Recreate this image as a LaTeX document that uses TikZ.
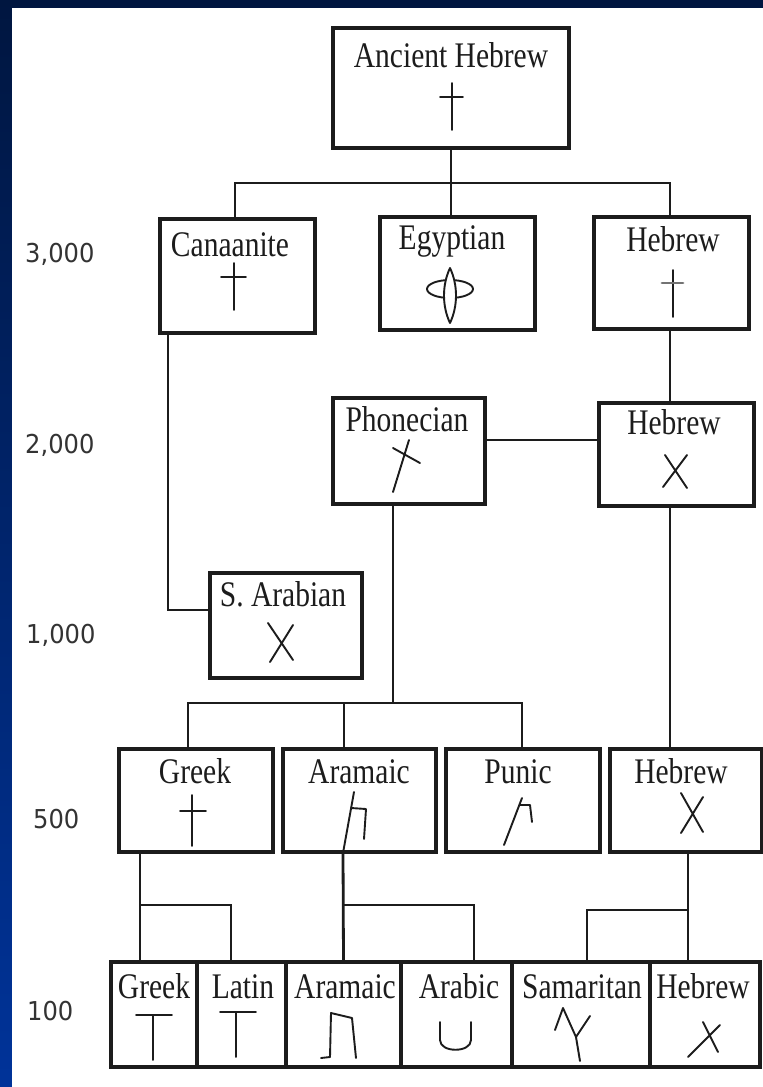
\documentclass[tikz,border=0pt]{standalone}
\usepackage{fontspec}
\setmainfont{Liberation Serif}
\newfontfamily\boxfont[FakeStretch=0.82]{Liberation Serif}
\newfontfamily\yearfont[FakeStretch=0.93]{DejaVu Sans}
\usetikzlibrary{positioning}

\definecolor{navytop}{RGB}{0,22,64}
\definecolor{navybot}{RGB}{0,51,153}
\definecolor{ink}{RGB}{28,28,28}

\tikzset{
    box/.style 2 args={draw=ink,line width=3.2pt,minimum width=#1,minimum height=#2,inner sep=0pt,outer sep=0pt},
    lab/.style={font=\boxfont\fontsize{36}{40}\selectfont,text=ink,inner sep=0pt,anchor=base},
    year/.style={font=\yearfont\fontsize{26}{30}\selectfont,text=black!80,inner sep=0pt,anchor=base west},
    link/.style={draw=ink,line width=2.8pt},
    glyph/.style={draw=ink,line width=1.9pt,line cap=round,line join=round}
}

\begin{document}
\begin{tikzpicture}[x=1pt,y=-1pt]
    \useasboundingbox (0,0) rectangle (763,1087);

    % Slide background
    \fill[top color=navytop,bottom color=navybot] (0,0) rectangle (763,1087);
    \fill[white] (12,8) rectangle (763,1087);

    % Years
    \node[year] (y3000) at (25,262) {3,000};
    \node[year] (y2000) at (25,453) {2,000};
    \node[year] (y1000) at (26,643) {1,000};
    \node[year] (y500) at (33,828) {500};
    \node[year] (y100) at (27,1020) {100};

    % Boxes
    \node[box={236}{120}] (anc) at (451,88) {};
    \node[box={155}{114}] (can) at (237.5,276) {};
    \node[box={155}{113}] (egy) at (457.5,273.5) {};
    \node[box={155}{112}] (heb1) at (671.5,273) {};
    \node[box={152}{106}] (pho) at (409,451) {};
    \node[box={155}{103}] (heb2) at (676.5,454.5) {};
    \node[box={152}{105}] (sar) at (286,625.5) {};
    \node[box={154}{103}] (grk4) at (196,800.5) {};
    \node[box={153}{103}] (ara4) at (359.5,800.5) {};
    \node[box={154}{103}] (pun4) at (523,800.5) {};
    \node[box={152}{103}] (heb4) at (686,800.5) {};
    \node[box={86}{105}] (grk5) at (154,1014.5) {};
    \node[box={89}{105},right=0pt of grk5] (lat5) {};
    \node[box={115}{105},right=0pt of lat5] (ara5) {};
    \node[box={111}{105},right=0pt of ara5] (arb5) {};
    \node[box={138}{105},right=0pt of arb5] (sam5) {};
    \node[box={110}{105},right=0pt of sam5] (heb5) {};

    % Names
    \node[lab] (ancL) at (451,67) {Ancient Hebrew};
    \node[lab] (canL) at (230,256) {Canaanite};
    \node[lab] (egyL) at (452,249) {Egyptian};
    \node[lab] (heb1L) at (673,251) {Hebrew};
    \node[lab] (phoL) at (407,431) {Phonecian};
    \node[lab] (heb2L) at (674,434) {Hebrew};
    \node[lab] (sarL) at (283,606) {S. Arabian};
    \node[lab] (grk4L) at (195,783) {Greek};
    \node[lab] (ara4L) at (359,783) {Aramaic};
    \node[lab] (pun4L) at (518,783) {Punic};
    \node[lab] (heb4L) at (681,783) {Hebrew};
    \node[lab] (grk5L) at (154,998) {Greek};
    \node[lab] (lat5L) at (243,998) {Latin};
    \node[lab] (ara5L) at (345,998) {Aramaic};
    \node[lab] (arb5L) at (459,998) {Arabic};
    \node[lab] (sam5L) at (582,998) {Samaritan};
    \node[lab] (heb5L) at (703,998) {Hebrew};

    % Letters
    \draw[glyph] (452,83) -- (452,130) (440,97) -- (463,97);
    \draw[glyph] (234,263) -- (234,310) (221,277) -- (246,277);
    \draw[glyph] (450,289) ellipse[x radius=23,y radius=9];
    \filldraw[glyph,fill=white] (450,268) .. controls (442,285) and (442,306) .. (450,323)
        .. controls (458,306) and (458,285) .. (450,268);
    \draw[glyph] (673,270) -- (673,317);
    \draw[glyph,draw=black!55,line width=2.8pt] (662,283) -- (683,283);
    \draw[glyph] (393,492) -- (409,440) (393,448) -- (420,463);
    \draw[glyph] (665,455) -- (687,488) (687,455) -- (663,487);
    \draw[glyph] (268,623) -- (293,660) (293,625) -- (270,662);
    \draw[glyph] (192,795) -- (192,846) (180,811) -- (206,811);
    \draw[glyph] (343,853) -- (354,792) (351,808) -- (366,809) -- (364,839);
    \draw[glyph] (504,845) -- (522,798) (519,805) -- (530,805) -- (532,822);
    \draw[glyph] (681,793) -- (703,832) (703,797) -- (681,833);
    \draw[glyph] (136,1015) -- (172,1015) (153,1015) -- (153,1060);
    \draw[glyph] (220,1012) -- (256,1012) (236,1012) -- (236,1057);
    \draw[glyph] (321,1058) -- (330,1057) -- (331,1013) -- (352,1018) -- (356,1058);
    \draw[glyph] (440,1022) -- (440,1040) .. controls (440,1053) and (471,1053) .. (471,1040) -- (471,1022);
    \draw[glyph] (555,1030) -- (563,1008) -- (576,1037) -- (580,1061) (590,1016) -- (576,1037);
    \draw[glyph] (688,1057) -- (720,1025) (703,1022) -- (718,1052);

    % Connectors
    \draw[link] (anc.south) -- ++(0,35) coordinate (split);
    \draw[link] ([xshift=-2.5pt]can.north) |- (split) -| ([xshift=-1.5pt]heb1.north);
    \draw[link] (split) -- (split |- egy.north);
    \draw[link] ([xshift=-69.5pt]can.south) |- ([yshift=15.5pt]sar.west);
    \draw[link] ([xshift=-1.5pt]heb1.south) -- ([xshift=-6.5pt]heb2.north);
    \draw[link] ([yshift=11pt]pho.east) -- ([yshift=11pt]pho.east -| heb2.west);
    \draw[link] ([xshift=-16pt]pho.south) -- ++(0,199) coordinate (bus);
    \draw[link] ([xshift=-8pt]grk4.north) |- (bus) -| ([xshift=-1pt]pun4.north);
    \draw[link] ([xshift=-15.5pt]ara4.north) -- ([xshift=-15.5pt]ara4.north |- bus);
    \draw[link] ([xshift=-6.5pt]heb2.south) -- ([xshift=-16pt]heb4.north);
    \draw[link] ([xshift=-56pt]grk4.south) -- ([xshift=-14pt]grk5.north);
    \draw[link] ([xshift=-14pt]grk5.north) ++(0,-57) -| ([xshift=-10.5pt]lat5.north);
    \draw[link] ([xshift=-16.5pt]ara4.south) -- (ara5.north);
    \draw[link] (ara5.north) ++(0,-57) -| ([xshift=17.5pt]arb5.north);
    \draw[link] ([xshift=2pt]heb4.south) -- ([xshift=-17pt]heb5.north);
    \draw[link] ([xshift=-17pt]heb5.north) ++(0,-52) -| ([xshift=6pt]sam5.north);
\end{tikzpicture}
\end{document}
